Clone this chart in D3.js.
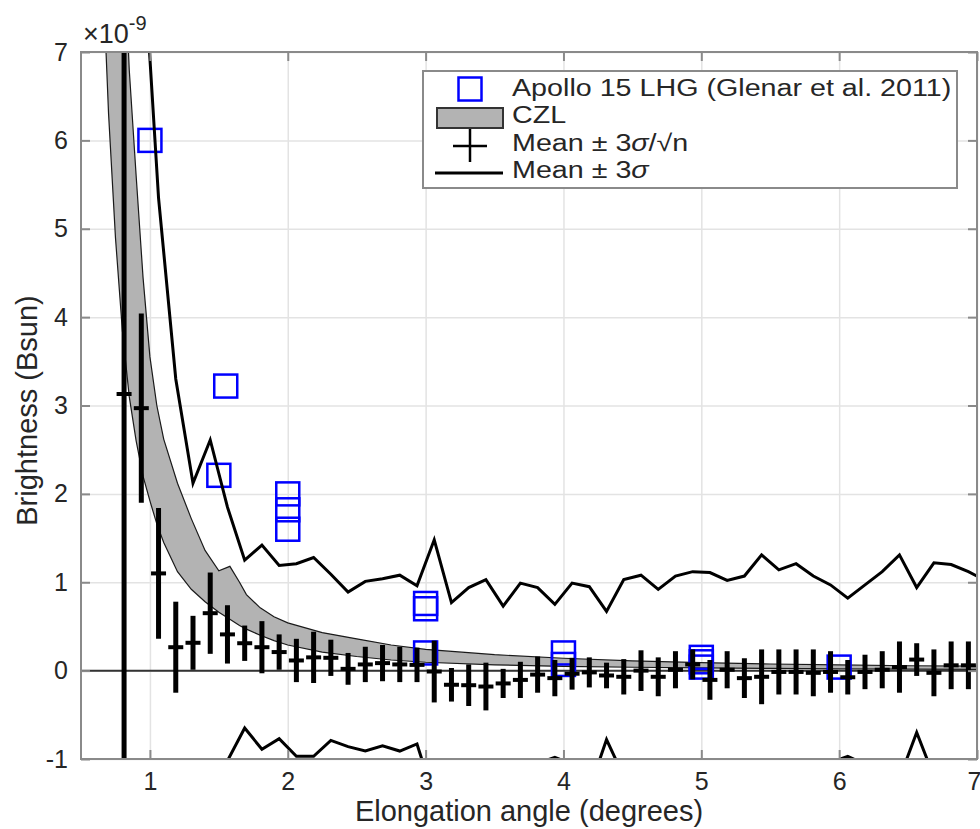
<!DOCTYPE html>
<html>
<head>
<meta charset="utf-8">
<script src="https://cdn.jsdelivr.net/npm/d3@7"></script>
<style>
body { margin: 0; background: #fff; }
svg text { font-family: "Liberation Sans", Arial, Helvetica, sans-serif; fill: #262626; }
</style>
</head>
<body>
<div id="chart"></div>
<script>
// tick labels
var xTicks = [1, 2, 3, 4, 5, 6, 7];
var yTicks = [-1, 0, 1, 2, 3, 4, 5, 6, 7];

// elongation bins (deg) of the measurements
var barX = [0.8125, 0.9375, 1.0625, 1.1875, 1.3125, 1.4375, 1.5625, 1.6875, 1.8125, 1.9375,
            2.0625, 2.1875, 2.3125, 2.4375, 2.5625, 2.6875, 2.8125, 2.9375, 3.0625, 3.1875,
            3.3125, 3.4375, 3.5625, 3.6875, 3.8125, 3.9375, 4.0625, 4.1875, 4.3125, 4.4375,
            4.5625, 4.6875, 4.8125, 4.9375, 5.0625, 5.1875, 5.3125, 5.4375, 5.5625, 5.6875,
            5.8125, 5.9375, 6.0625, 6.1875, 6.3125, 6.4375, 6.5625, 6.6875, 6.8125, 6.9375, 7.0625];

// mean brightness (x1e-9 Bsun)
var meanVals = [3.13, 2.97, 1.10, 0.265, 0.315, 0.65, 0.41, 0.31, 0.265, 0.21,
                0.115, 0.15, 0.145, 0.02, 0.07, 0.085, 0.07, 0.065, -0.01, -0.16,
                -0.165, -0.18, -0.145, -0.105, -0.045, -0.085, -0.035, -0.02, -0.055, -0.07,
                0.0, -0.07, 0.01, 0.07, -0.105, 0.01, -0.085, -0.07, -0.015, -0.015,
                -0.025, -0.015, -0.075, -0.015, 0.01, 0.04, 0.125, -0.025, 0.06, 0.06, 0.05];

// 3 sigma / sqrt(n)
var errVals = [12, 1.07, 0.74, 0.515, 0.305, 0.46, 0.33, 0.20, 0.295, 0.20,
               0.245, 0.29, 0.205, 0.18, 0.20, 0.205, 0.20, 0.195, 0.35, 0.19,
               0.235, 0.27, 0.165, 0.205, 0.205, 0.205, 0.18, 0.17, 0.145, 0.20,
               0.23, 0.22, 0.21, 0.17, 0.225, 0.21, 0.225, 0.31, 0.255, 0.255,
               0.265, 0.235, 0.195, 0.195, 0.21, 0.29, 0.185, 0.265, 0.27, 0.27, 0.25];

// mean + 3 sigma
var upperVals = [16, 8.5, 5.35, 3.3, 2.12, 2.61, 1.85, 1.25, 1.42, 1.19,
                 1.21, 1.28, 1.09, 0.89, 1.01, 1.04, 1.08, 0.96, 1.48, 0.77,
                 0.94, 1.03, 0.73, 0.99, 0.94, 0.75, 0.99, 0.95, 0.67, 1.03,
                 1.08, 0.92, 1.07, 1.12, 1.11, 1.02, 1.07, 1.31, 1.14, 1.21,
                 1.07, 0.97, 0.82, 0.97, 1.12, 1.31, 0.94, 1.22, 1.20, 1.12, 1.02];

// mean - 3 sigma
var lowerVals = [-9.7, -2.56, -3.15, -2.77, -1.49, -1.31, -1.02, -0.65, -0.89, -0.77,
                 -0.97, -0.97, -0.79, -0.86, -0.91, -0.85, -0.91, -0.83, -1.45, -1.09,
                 -1.27, -1.39, -1.02, -1.20, -1.05, -0.98, -1.06, -1.35, -0.78, -1.2,
                 -1.08, -1.06, -1.05, -1.04, -1.32, -1.05, -1.24, -1.45, -1.17, -1.24,
                 -1.12, -1.04, -0.97, -1.06, -1.10, -1.22, -0.70, -1.2, -1.08, -1.05, -1.1];

// CZL model band
var czlX = [0.6, 0.65, 0.7, 0.75, 0.8, 0.85, 0.9, 0.95, 1.0, 1.05, 1.1, 1.2, 1.3, 1.4, 1.5, 1.58, 1.65,
            1.7, 1.8, 1.9, 2.0, 2.25, 2.5, 2.75, 3.0, 3.5, 4.0, 4.5, 5.0, 5.5, 6.0, 6.5, 7.0];
var czlHigh = [25, 17, 13, 10.5, 8.6, 6.8, 5.6, 4.45, 3.55, 3.0, 2.62, 2.12, 1.72, 1.36, 1.13, 1.18, 1.0,
               0.86, 0.71, 0.61, 0.54, 0.43, 0.36, 0.29, 0.24, 0.18, 0.14, 0.11, 0.09, 0.075, 0.065, 0.055, 0.05];
var czlLow = [10.5, 8.2, 6.3, 4.9, 3.85, 3.1, 2.6, 2.2, 1.92, 1.66, 1.45, 1.12, 0.92, 0.78, 0.66, 0.58, 0.51,
              0.47, 0.40, 0.34, 0.29, 0.21, 0.16, 0.12, 0.095, 0.065, 0.048, 0.038, 0.03, 0.025, 0.02, 0.017, 0.015];

// Apollo 15 LHG (Glenar et al. 2011)
var apolloX = [1.0, 1.55, 1.5, 2.0, 2.0, 2.0, 3.0, 3.0, 3.0, 4.0, 4.0, 5.0, 5.0, 5.0, 6.0];
var apolloY = [6.0, 3.22, 2.21, 2.0, 1.82, 1.6, 0.76, 0.70, 0.2, 0.2, 0.07, 0.15, 0.1, 0.04, 0.04];

// legend entries
var legendLabels = ["Apollo 15 LHG (Glenar et al. 2011)", "CZL", "Mean \u00b1 3|\u03c3|/\u221an", "Mean \u00b1 3|\u03c3"];

function init() {
    var w = 980;
    var h = 829;
    var left = 81, right = 977, top = 52, bottom = 759;

    var xScale = d3.scaleLinear().domain([0.5, 7]).range([left, right]);
    var yScale = d3.scaleLinear().domain([-1, 7]).range([bottom, top]);

    var svg = d3.select("#chart")
        .append("svg")
        .attr("width", w)
        .attr("height", h);

    svg.append("clipPath")
        .attr("id", "plotclip")
        .append("rect")
        .attr("x", left)
        .attr("y", top)
        .attr("width", right - left)
        .attr("height", bottom - top);

    // grid
    svg.append("g")
        .attr("class", "grid")
        .attr("transform", "translate(0," + bottom + ")")
        .call(d3.axisBottom(xScale).tickValues(xTicks).tickSize(-(bottom - top)).tickFormat(""));
    svg.append("g")
        .attr("class", "grid")
        .attr("transform", "translate(" + left + ",0)")
        .call(d3.axisLeft(yScale).tickValues(yTicks).tickSize(-(right - left)).tickFormat(""));
    svg.selectAll(".grid .domain").remove();
    svg.selectAll(".grid line").attr("stroke", "#e3e3e3").attr("stroke-width", 1.5);

    var plot = svg.append("g").attr("clip-path", "url(#plotclip)");

    // CZL band
    var czl = czlX.map(function(d, i) { return {x: d, lo: czlLow[i], hi: czlHigh[i]}; });
    var area = d3.area()
        .x(function(d) { return xScale(d.x); })
        .y0(function(d) { return yScale(d.lo); })
        .y1(function(d) { return yScale(d.hi); });
    plot.append("path")
        .datum(czl)
        .attr("d", area)
        .attr("fill", "#b3b3b3")
        .attr("stroke", "#1a1a1a")
        .attr("stroke-width", 1.2);

    // zero line
    plot.append("line")
        .attr("x1", xScale(0.5))
        .attr("x2", xScale(7))
        .attr("y1", yScale(0))
        .attr("y2", yScale(0))
        .attr("stroke", "#333")
        .attr("stroke-width", 2);

    // Apollo squares
    plot.selectAll(".apollo")
        .data(apolloX)
        .enter()
        .append("rect")
        .attr("class", "apollo")
        .attr("x", function(d) { return xScale(d) - 11.5; })
        .attr("y", function(d, i) { return yScale(apolloY[i]) - 11.5; })
        .attr("width", 23)
        .attr("height", 23)
        .attr("fill", "none")
        .attr("stroke", "#0000ff")
        .attr("stroke-width", 2.5);

    // mean +/- 3 sigma lines
    var line = d3.line()
        .x(function(d) { return xScale(d[0]); })
        .y(function(d) { return yScale(d[1]); });
    [upperVals, lowerVals].forEach(function(vals) {
        plot.append("path")
            .datum(barX.map(function(d, i) { return [d, vals[i]]; }))
            .attr("d", line)
            .attr("fill", "none")
            .attr("stroke", "#000")
            .attr("stroke-width", 3)
            .attr("stroke-linejoin", "miter");
    });

    // error bars
    var bars = plot.selectAll(".ebar")
        .data(barX)
        .enter()
        .append("g")
        .attr("class", "ebar");
    bars.append("line")
        .attr("x1", function(d) { return xScale(d); })
        .attr("x2", function(d) { return xScale(d); })
        .attr("y1", function(d, i) { return yScale(meanVals[i] - errVals[i]); })
        .attr("y2", function(d, i) { return yScale(meanVals[i] + errVals[i]); })
        .attr("stroke", "#000")
        .attr("stroke-width", 5);
    bars.append("line")
        .attr("x1", function(d) { return xScale(d) - 7.5; })
        .attr("x2", function(d) { return xScale(d) + 7.5; })
        .attr("y1", function(d, i) { return yScale(meanVals[i]); })
        .attr("y2", function(d, i) { return yScale(meanVals[i]); })
        .attr("stroke", "#000")
        .attr("stroke-width", 4);

    // axes box
    svg.append("rect")
        .attr("x", left)
        .attr("y", top)
        .attr("width", right - left)
        .attr("height", bottom - top)
        .attr("fill", "none")
        .attr("stroke", "#8a8a8a")
        .attr("stroke-width", 2);

    var fmt = function(d) { return "" + d; };
    var xAxis = d3.axisBottom(xScale).tickValues(xTicks).tickSize(-9).tickPadding(13).tickFormat(fmt);
    var yAxis = d3.axisLeft(yScale).tickValues(yTicks).tickSize(-9).tickPadding(13).tickFormat(fmt);

    var gx = svg.append("g")
        .attr("class", "axis")
        .attr("transform", "translate(0," + bottom + ")")
        .call(xAxis);
    var gy = svg.append("g")
        .attr("class", "axis")
        .attr("transform", "translate(" + left + ",0)")
        .call(yAxis);
    svg.append("g")
        .attr("class", "axis")
        .attr("transform", "translate(0," + top + ")")
        .call(d3.axisTop(xScale).tickValues(xTicks).tickSize(-9).tickFormat(""));
    svg.append("g")
        .attr("class", "axis")
        .attr("transform", "translate(" + right + ",0)")
        .call(d3.axisRight(yScale).tickValues(yTicks).tickSize(-9).tickFormat(""));

    svg.selectAll(".axis .domain").remove();
    svg.selectAll(".axis line").attr("stroke", "#8a8a8a").attr("stroke-width", 2);
    svg.selectAll(".axis text")
        .style("font-family", "'Liberation Sans', Arial, sans-serif")
        .style("font-size", "25px")
        .attr("fill", "#262626");
    // last x label sits on the figure edge; keep it inside
    gx.selectAll(".tick text").filter(function(d) { return d === 7; }).attr("dx", -3);

    // axis labels
    svg.append("text")
        .attr("x", (left + right) / 2)
        .attr("y", 821)
        .attr("text-anchor", "middle")
        .style("font-size", "29px")
        .text("Elongation angle (degrees)");

    svg.append("text")
        .attr("transform", "translate(37," + ((top + bottom) / 2 + 5) + ") rotate(-90)")
        .attr("text-anchor", "middle")
        .style("font-size", "29px")
        .text("Brightness (Bsun)");

    // exponent
    var ex = svg.append("text")
        .attr("x", 83)
        .attr("y", 43)
        .style("font-size", "27px");
    ex.append("tspan").text("\u00d710");
    ex.append("tspan").attr("dy", -13).style("font-size", "20px").text("-9");

    // Legend
    var lg = svg.append("g").attr("class", "legend");
    lg.append("rect")
        .attr("x", 423)
        .attr("y", 71)
        .attr("width", 534)
        .attr("height", 117)
        .attr("fill", "#fff")
        .attr("stroke", "#8a8a8a")
        .attr("stroke-width", 2);
    lg.append("rect")
        .attr("x", 458.5).attr("y", 77.5)
        .attr("width", 23).attr("height", 23)
        .attr("fill", "none").attr("stroke", "#0000ff").attr("stroke-width", 2.5);
    lg.append("rect")
        .attr("x", 437).attr("y", 108)
        .attr("width", 66).attr("height", 20)
        .attr("fill", "#b3b3b3").attr("stroke", "#333").attr("stroke-width", 2);
    lg.append("line")
        .attr("x1", 470).attr("x2", 470).attr("y1", 129).attr("y2", 162)
        .attr("stroke", "#000").attr("stroke-width", 2.5);
    lg.append("line")
        .attr("x1", 453).attr("x2", 487).attr("y1", 146).attr("y2", 146)
        .attr("stroke", "#000").attr("stroke-width", 2.5);
    lg.append("line")
        .attr("x1", 435).attr("x2", 503).attr("y1", 173).attr("y2", 173)
        .attr("stroke", "#000").attr("stroke-width", 3);

    var lt = [95.5, 123, 150.5, 178];
    legendLabels.forEach(function(lab, i) {
        var t = lg.append("text")
            .attr("x", 512)
            .attr("y", lt[i])
            .style("font-size", "23.5px")
            .attr("fill", "#000");
        // parts split on "|", the sigma is set in italic
        lab.split("|").forEach(function(part) {
            t.append("tspan")
                .style("font-style", part === "\u03c3" ? "italic" : "normal")
                .text(part);
        });
        // the reference glyphs run wider than Liberation Sans
        var len = t.node().getComputedTextLength();
        t.attr("textLength", len * 1.22).attr("lengthAdjust", "spacingAndGlyphs");
    });
}
window.onload = init;
</script>
</body>
</html>
